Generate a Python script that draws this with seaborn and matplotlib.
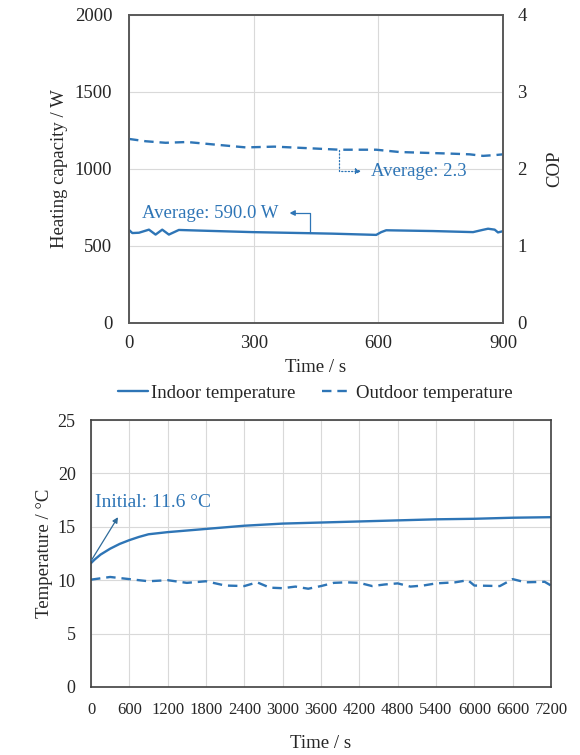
import numpy as np
import matplotlib
matplotlib.use("Agg")
import matplotlib.pyplot as plt
import seaborn as sns

# top panel: heating capacity (W) and COP over 900 s
heat_t = [0, 8, 24, 48, 64, 80, 96, 120, 169, 297, 434, 490, 595, 607, 619, 731, 828, 852, 864, 880, 888, 900]
heat_w = [604, 584, 586, 606, 574, 606, 574, 604, 600, 590, 583, 580, 572, 590, 602, 597, 590, 605, 612, 606, 588, 596]

cop_t = [0, 40, 88, 140, 200, 281, 350, 430, 506, 595, 651, 710, 771, 820, 852, 880, 900]
cop_v = [2.39, 2.36, 2.34, 2.35, 2.32, 2.28, 2.29, 2.27, 2.25, 2.25, 2.22, 2.21, 2.20, 2.19, 2.17, 2.18, 2.19]

# bottom panel: indoor / outdoor temperature over 7200 s
in_t = [0, 60, 150, 300, 450, 600, 750, 900, 1200, 1800, 2400, 3000, 3600, 4200, 4800, 5400, 6000, 6600, 7200]
in_v = [11.6, 11.95, 12.4, 12.95, 13.4, 13.75, 14.05, 14.3, 14.5, 14.8, 15.1, 15.3, 15.4, 15.5, 15.6,
        15.7, 15.75, 15.85, 15.9]

out_t = [0, 300, 600, 900, 1200, 1500, 1800, 2100, 2400, 2600, 2800, 3000, 3200, 3400, 3600,
         3800, 4000, 4200, 4400, 4600, 4800, 5000, 5200, 5400, 5700, 5900, 6000, 6400, 6600, 6800, 7100, 7200]
out_v = [10.05, 10.3, 10.1, 9.9, 10.0, 9.75, 9.9, 9.5, 9.45, 9.8, 9.3, 9.25, 9.4, 9.2, 9.45,
         9.75, 9.8, 9.75, 9.45, 9.6, 9.7, 9.4, 9.5, 9.7, 9.8, 10.0, 9.5, 9.45, 10.1, 9.8, 9.85, 9.5]

heat_ticks = [0, 500, 1000, 1500, 2000]
cop_ticks = [0, 1, 2, 3, 4]
time_ticks_top = [0, 300, 600, 900]
time_ticks_bot = list(range(0, 7201, 600))
temp_ticks = [0, 5, 10, 15, 20, 25]

blue = "#2E75B6"
grid_c = "#D9D9D9"

sns.set_style("white")
plt.rcParams["font.family"] = ["Liberation Serif", "DejaVu Serif"]

fig = plt.figure(figsize=(5.8, 7.55), dpi=100)

# ---------- top panel ----------
ax1 = fig.add_axes([0.2224, 0.5722, 0.6448, 0.408])
ax2 = ax1.twinx()

sns.lineplot(x=heat_t, y=heat_w, ax=ax1, color=blue, linewidth=1.7)
sns.lineplot(x=cop_t, y=cop_v, ax=ax2, color=blue, linewidth=1.7, linestyle=(0, (4, 2.5)))

ax1.set_xlim(0, 900)
ax1.set_ylim(0, 2000)
ax2.set_ylim(0, 4)
ax1.set_xticks(time_ticks_top)
ax1.set_yticks(heat_ticks)
ax2.set_yticks(cop_ticks)
ax1.grid(True, color=grid_c, linewidth=0.8)
ax1.set_axisbelow(True)
for a in (ax1, ax2):
    a.tick_params(length=0, labelsize=13.5)
    for s in a.spines.values():
        s.set_color("#595959")
        s.set_linewidth(1.2)
ax1.tick_params(axis="y", pad=12)
ax1.tick_params(axis="x", pad=9)
ax2.tick_params(axis="y", pad=10.5)
ax1.set_xlabel("Time / s", fontsize=13.5, labelpad=5)
ax1.set_ylabel("Heating capacity / W", fontsize=13.5, labelpad=5)
ax2.set_ylabel("COP", fontsize=13.5, labelpad=14)

ax1.annotate("Average: 590.0 W", xy=(386, 714), xytext=(32, 714), fontsize=13.5,
             color=blue, va="center", ha="left")
ax1.annotate("", xy=(386, 714), xytext=(435, 585),
             arrowprops=dict(arrowstyle="-|>", color=blue, lw=0.9, mutation_scale=8,
                             shrinkA=0, shrinkB=0,
                             connectionstyle="angle,angleA=90,angleB=0,rad=0"))
ax2.annotate("Average: 2.3", xy=(583, 1.97), fontsize=13.5, color=blue, va="center", ha="left")
ax2.annotate("", xy=(559, 1.97), xytext=(506, 2.25),
             arrowprops=dict(arrowstyle="-|>", color=blue, lw=0.9, mutation_scale=8,
                             linestyle=":", shrinkA=0, shrinkB=0,
                             connectionstyle="angle,angleA=90,angleB=0,rad=0"))

# ---------- bottom panel ----------
ax3 = fig.add_axes([0.1569, 0.0901, 0.7931, 0.3536])
sns.lineplot(x=in_t, y=in_v, ax=ax3, color=blue, linewidth=1.7, label="Indoor temperature")
sns.lineplot(x=out_t, y=out_v, ax=ax3, color=blue, linewidth=1.7, linestyle=(0, (4, 2.5)),
             label="Outdoor temperature")
ax3.set_xlim(0, 7200)
ax3.set_ylim(0, 25)
ax3.set_xticks(time_ticks_bot)
ax3.set_yticks(temp_ticks)
ax3.grid(True, color=grid_c, linewidth=0.8)
ax3.set_axisbelow(True)
ax3.tick_params(length=0, labelsize=12)
ax3.tick_params(axis="x", pad=11)
ax3.tick_params(axis="y", labelsize=13, pad=11)
for s in ax3.spines.values():
    s.set_color("#404040")
    s.set_linewidth(1.2)
ax3.set_xlabel("Time / s", fontsize=13.5, labelpad=12)
ax3.set_ylabel("Temperature / °C", fontsize=13.5, labelpad=3)

ax3.annotate("Initial: 11.6 °C", xy=(58, 17.3), fontsize=14, color=blue, va="center", ha="left")
ax3.annotate("", xy=(422, 15.9), xytext=(0, 11.8),
             arrowprops=dict(arrowstyle="-|>", color="#2F6B9A", lw=0.9, mutation_scale=8,
                             shrinkA=0, shrinkB=0))

handles, labels = ax3.get_legend_handles_labels()
ax3.get_legend().remove()
fig.legend(handles, labels, loc="center", bbox_to_anchor=(0.543, 0.479), ncol=2,
           frameon=False, fontsize=13.5, handlelength=1.6, handletextpad=0.2,
           columnspacing=1.4)

fig.savefig("out.png", dpi=100)
